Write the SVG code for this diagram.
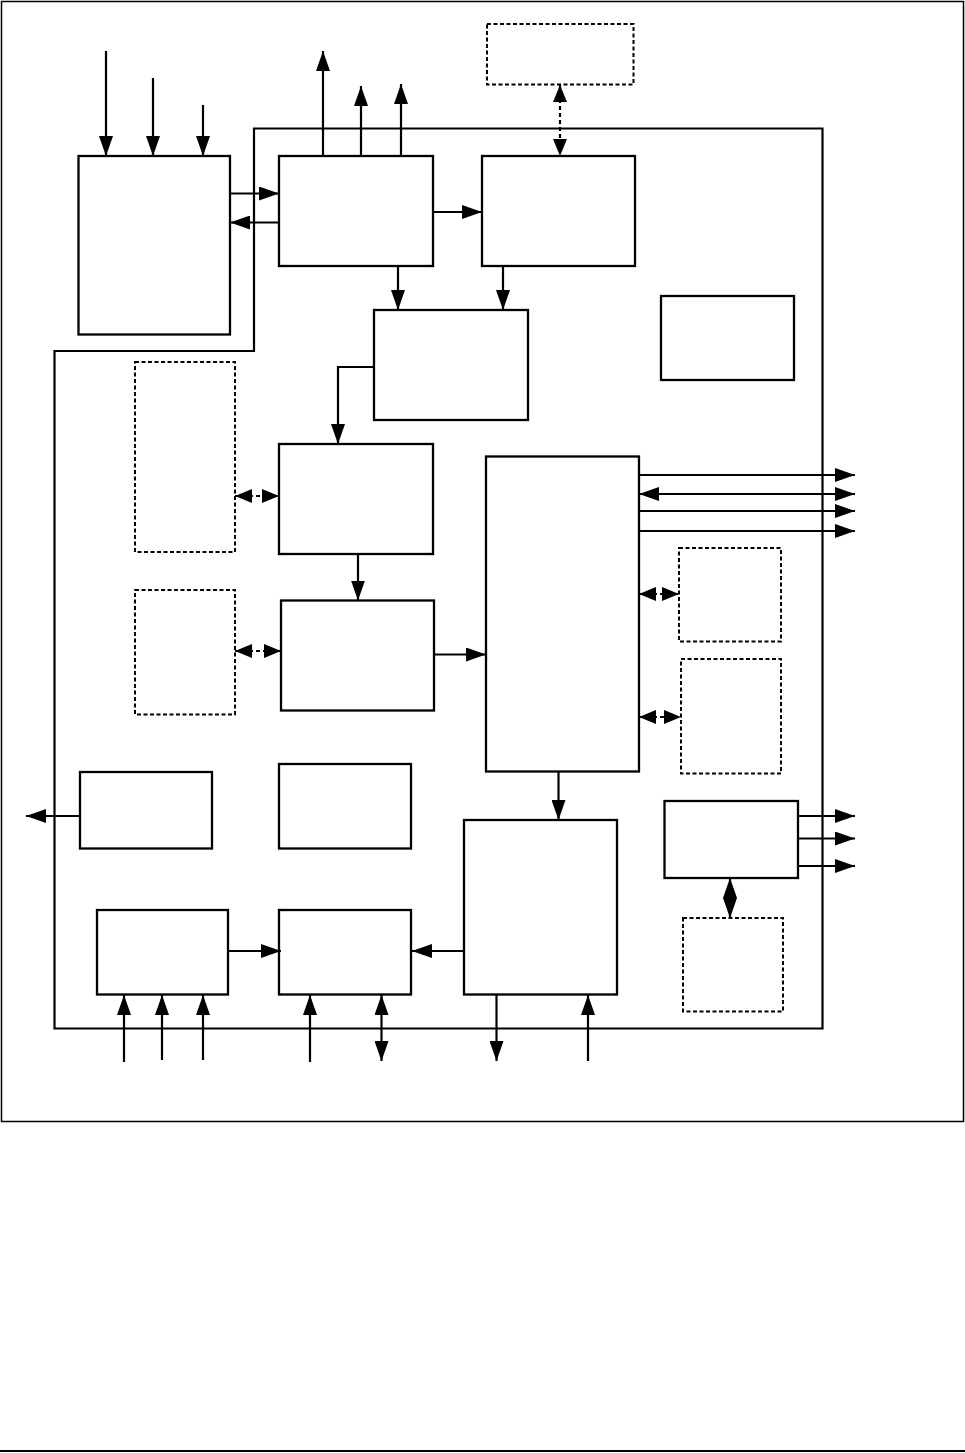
<svg xmlns="http://www.w3.org/2000/svg" width="965" height="1453" viewBox="0 0 965 1453">
<style>
.box{fill:#fff;stroke:#000;stroke-width:2.3}
.dbox{fill:#fff;stroke:#000;stroke-width:2;stroke-dasharray:4,2.5}
.ln{fill:none;stroke:#000;stroke-width:2.2}
.dl{fill:none;stroke:#000;stroke-width:2.2;stroke-dasharray:4,3;marker-end:url(#ahs);marker-start:url(#ahs)}
.a{marker-end:url(#ah)}
.aa{marker-end:url(#ah);marker-start:url(#ah)}
</style>
<defs>
<marker id="ah" viewBox="0 0 20 14" markerUnits="userSpaceOnUse" markerWidth="20" markerHeight="14" refX="20" refY="7" orient="auto-start-reverse">
<path d="M0,0 L20,7 L0,14 z" fill="#000"/>
</marker>
<marker id="ahs" viewBox="0 0 17 14" markerUnits="userSpaceOnUse" markerWidth="17" markerHeight="14" refX="17" refY="7" orient="auto-start-reverse">
<path d="M0,0 L17,7 L0,14 z" fill="#000"/>
</marker>
</defs>
<rect x="0" y="0" width="965" height="1453" fill="#fff"/>
<rect id="frame" x="1.5" y="1.5" width="962" height="1120" fill="none" stroke="#000" stroke-width="1.5"/>
<line id="footer-rule" x1="0" y1="1451" x2="965" y2="1451" stroke="#000" stroke-width="2"/>
<g id="boundary"><path class="ln" d="M254,128.5 L822.5,128.5 L822.5,1028.5 L54.5,1028.5 L54.5,351 L254,351 Z"/></g>

<g id="A"><rect class="box" x="78.5" y="156" width="151.5" height="178.5"/></g>
<g id="B"><rect class="box" x="279" y="156" width="154" height="110"/></g>
<g id="C"><rect class="box" x="482" y="156" width="153" height="110"/></g>
<g id="D"><rect class="dbox" x="487" y="24" width="146.5" height="60.5"/></g>
<g id="E"><rect class="box" x="374" y="310" width="154" height="110"/></g>
<g id="F"><rect class="box" x="661" y="296" width="133" height="84"/></g>
<g id="G"><rect class="dbox" x="135" y="362" width="100" height="190"/></g>
<g id="H"><rect class="box" x="279" y="444" width="154" height="110"/></g>
<g id="I"><rect class="dbox" x="135" y="590" width="100" height="124.5"/></g>
<g id="J"><rect class="box" x="281" y="600.5" width="153" height="110"/></g>
<g id="K"><rect class="box" x="486" y="456.5" width="153" height="315"/></g>
<g id="L"><rect class="dbox" x="679" y="548" width="102" height="93.5"/></g>
<g id="M"><rect class="dbox" x="681" y="659" width="100" height="114.5"/></g>
<g id="N"><rect class="box" x="80" y="772" width="132" height="76.5"/></g>
<g id="O"><rect class="box" x="279" y="764" width="132" height="84.5"/></g>
<g id="P"><rect class="box" x="97" y="910" width="131" height="84.5"/></g>
<g id="Q"><rect class="box" x="279" y="910" width="132" height="84.5"/></g>
<g id="R"><rect class="box" x="464" y="820" width="153" height="174.5"/></g>
<g id="S"><rect class="box" x="664.5" y="801" width="133.5" height="77"/></g>
<g id="T"><rect class="dbox" x="683" y="918" width="100" height="93.5"/></g>

<g id="connectors">
<line class="ln a" x1="106" y1="51" x2="106" y2="156"/>
<line class="ln a" x1="153" y1="78" x2="153" y2="156"/>
<line class="ln a" x1="203" y1="105" x2="203" y2="156"/>
<line class="ln a" x1="323" y1="156" x2="323" y2="51"/>
<line class="ln a" x1="361" y1="156" x2="361" y2="86"/>
<line class="ln a" x1="401" y1="156" x2="401" y2="84"/>
<line class="ln a" x1="230" y1="193.5" x2="279" y2="193.5"/>
<line class="ln a" x1="279" y1="222.5" x2="230" y2="222.5"/>
<line class="ln a" x1="433" y1="212" x2="482" y2="212"/>
<line class="dl" x1="560" y1="85" x2="560" y2="156"/>
<line class="ln a" x1="398" y1="266" x2="398" y2="310"/>
<line class="ln a" x1="503" y1="266" x2="503" y2="310"/>
<path class="ln a" d="M374,367 L338,367 L338,444"/>
<line class="dl" x1="235" y1="496" x2="279" y2="496"/>
<line class="ln a" x1="358" y1="554" x2="358" y2="600.5"/>
<line class="dl" x1="235" y1="651" x2="281" y2="651"/>
<line class="ln a" x1="434" y1="654.5" x2="486" y2="654.5"/>
<line class="ln a" x1="639" y1="475" x2="855" y2="475"/>
<line class="ln aa" x1="639" y1="494" x2="855" y2="494"/>
<line class="ln a" x1="639" y1="511" x2="855" y2="511"/>
<line class="ln a" x1="639" y1="531" x2="855" y2="531"/>
<line class="dl" x1="639" y1="594" x2="679" y2="594"/>
<line class="dl" x1="639" y1="717" x2="681" y2="717"/>
<line class="ln a" x1="558.5" y1="771.5" x2="558.5" y2="820"/>
<line class="ln a" x1="80" y1="816" x2="26" y2="816"/>
<line class="ln a" x1="228" y1="951" x2="281" y2="951"/>
<line class="ln a" x1="464" y1="951" x2="412" y2="951"/>
<line class="ln a" x1="124" y1="1062" x2="124" y2="995"/>
<line class="ln a" x1="162" y1="1060" x2="162" y2="995"/>
<line class="ln a" x1="203" y1="1060" x2="203" y2="995"/>
<line class="ln a" x1="310" y1="1062" x2="310" y2="995"/>
<line class="ln aa" x1="381.5" y1="995" x2="381.5" y2="1061"/>
<line class="ln a" x1="496.5" y1="995" x2="496.5" y2="1061"/>
<line class="ln a" x1="588" y1="1061" x2="588" y2="995"/>
<line class="ln a" x1="798" y1="816" x2="855" y2="816"/>
<line class="ln a" x1="798" y1="838.5" x2="855" y2="838.5"/>
<line class="ln a" x1="798" y1="866" x2="855" y2="866"/>
<line class="ln aa" x1="730" y1="878" x2="730" y2="918"/>
</g>
</svg>
